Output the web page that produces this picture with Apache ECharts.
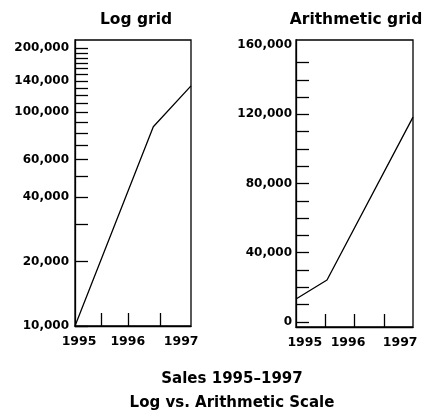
<!DOCTYPE html>
<html>
<head>
<meta charset="utf-8">
<script src="https://cdn.jsdelivr.net/npm/echarts@6/dist/echarts.min.js"></script>
<style>
  html, body { margin: 0; padding: 0; background: #fff; }
  #chart { width: 428px; height: 412px; }
</style>
</head>
<body>
<div id="chart"></div>
<script>
// data
const logYears = [1995, 1996.35, 1997];
const logSales = [10000, 85600, 133000];
const arithYears = [1995, 1995.53, 1997];
const arithSales = [13200, 24200, 118400];

const yearLabels = ['1995', '1996', '1997'];
const logLabelValues = [10000, 20000, 40000, 60000, 100000, 140000, 200000];
const logTickValues = [10000, 20000, 30000, 40000, 50000, 60000, 70000, 80000, 90000, 100000,
  110000, 120000, 130000, 140000, 150000, 160000, 170000, 180000, 190000, 200000];
const arithLabelValues = [0, 40000, 80000, 120000, 160000];
const arithTickValues = [0, 10000, 20000, 30000, 40000, 50000, 60000, 70000, 80000,
  90000, 100000, 110000, 120000, 130000, 140000, 150000];
// where the year ticks / labels sit along the bottom axes
const logYearTicks = [1995.45, 1995.92, 1996.47];
const logYearLabelPos = [1995.07, 1995.91, 1996.83];
const arithYearTicks = [1995.5, 1996, 1996.5];
const arithYearLabelPos = [1995.15, 1995.89, 1996.78];

const FONT = 'DejaVu Sans';
const fmt = (v) => Number(v).toLocaleString('en-US');
const yearFmt = (pos) => (v) => {
  const i = pos.findIndex((p) => Math.abs(p - v) < 1e-6);
  return i >= 0 ? yearLabels[i] : '';
};

const chart = echarts.init(document.getElementById('chart'));

const axisLine = { show: true, onZero: false, lineStyle: { color: '#000', width: 1.3 } };
const labelStyle = { color: '#000', fontFamily: FONT, fontWeight: 'bold', fontSize: 12 };
const titleStyle = { fontFamily: FONT, fontWeight: 'bold', fontSize: 15.5, color: '#000' };

const option = {
  animation: false,
  title: [
    { text: 'Log grid', left: 136, top: 12, padding: 0, textAlign: 'center', textStyle: titleStyle },
    { text: 'Arithmetic grid', left: 356, top: 12, padding: 0, textAlign: 'center', textStyle: titleStyle },
    { text: 'Sales 1995\u20131997', left: 232, top: 372, padding: 0, textAlign: 'center',
      textStyle: { ...titleStyle, fontSize: 15 } },
    { text: 'Log vs. Arithmetic Scale', left: 232, top: 396, padding: 0, textAlign: 'center',
      textStyle: { ...titleStyle, fontSize: 15 } }
  ],
  grid: [
    { left: 75, right: 237, top: 40, bottom: 86, show: true, borderColor: '#000', borderWidth: 1.3 },
    { left: 296, right: 15, top: 40, bottom: 85, show: true, borderColor: '#000', borderWidth: 1.3 }
  ],
  xAxis: [
    {
      gridIndex: 0, type: 'value', min: 1995, max: 1997,
      axisLine,
      splitLine: { show: false },
      axisTick: { show: true, inside: true, length: 13, customValues: logYearTicks,
        lineStyle: { color: '#000', width: 1.3 } },
      axisLabel: { ...labelStyle, fontSize: 12.5, margin: 9, customValues: logYearLabelPos,
        formatter: yearFmt(logYearLabelPos) }
    },
    {
      gridIndex: 1, type: 'value', min: 1995, max: 1997,
      axisLine,
      splitLine: { show: false },
      axisTick: { show: true, inside: true, length: 13, customValues: arithYearTicks,
        lineStyle: { color: '#000', width: 1.3 } },
      axisLabel: { ...labelStyle, fontSize: 12.5, margin: 9, customValues: arithYearLabelPos,
        formatter: yearFmt(arithYearLabelPos) }
    }
  ],
  yAxis: [
    {
      gridIndex: 0, type: 'log', logBase: 10, min: 10000, max: 218000,
      axisLine,
      splitLine: { show: false },
      axisTick: { show: true, inside: true, length: 13, customValues: logTickValues,
        lineStyle: { color: '#000', width: 1.3 } },
      axisLabel: { ...labelStyle, margin: 6, customValues: logLabelValues, formatter: fmt }
    },
    {
      gridIndex: 1, type: 'value', min: -3000, max: 163000,
      axisLine,
      splitLine: { show: false },
      axisTick: { show: true, inside: true, length: 13, customValues: arithTickValues,
        lineStyle: { color: '#000', width: 1.3 } },
      axisLabel: { ...labelStyle, margin: 4, customValues: arithLabelValues, formatter: fmt }
    }
  ],
  series: [
    {
      type: 'line', xAxisIndex: 0, yAxisIndex: 0, symbol: 'none',
      lineStyle: { color: '#000', width: 1.3 },
      data: logYears.map((y, i) => [y, logSales[i]])
    },
    {
      type: 'line', xAxisIndex: 1, yAxisIndex: 1, symbol: 'none',
      lineStyle: { color: '#000', width: 1.3 },
      data: arithYears.map((y, i) => [y, arithSales[i]])
    }
  ]
};

chart.setOption(option);
</script>
</body>
</html>
